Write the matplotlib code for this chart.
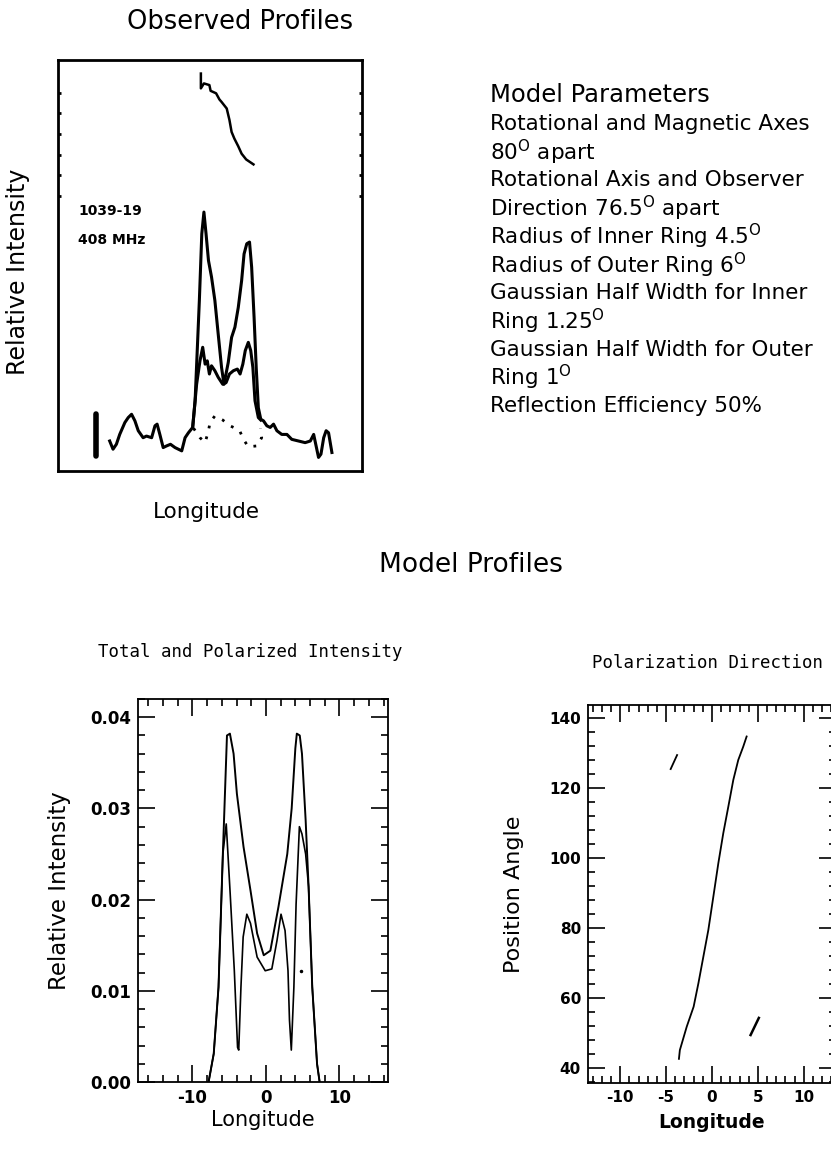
import numpy as np
import matplotlib
matplotlib.use("Agg")
import matplotlib.pyplot as plt
from matplotlib.ticker import MultipleLocator, FormatStrFormatter

plt.rcParams["axes.unicode_minus"] = False

# ---------------------------------------------------------------
# Observed profiles (arbitrary longitude / intensity units, 0-100)
obs_lon = [17.0, 18.1, 19.2, 20.3, 22.0, 23.1, 24.2, 25.3, 26.4, 28.0, 29.1, 30.8,
           31.9, 32.6, 33.5, 34.6, 35.7, 37.0, 38.5, 40.7, 41.8, 42.9, 44.3, 45.1,
           45.8, 46.5, 47.3, 48.0, 48.7, 49.5, 50.5, 51.6, 52.7, 53.8, 54.6, 56.0,
           57.1, 58.2, 59.3, 60.4, 61.2, 62.1, 63.0, 63.7, 64.5, 65.2, 65.9, 66.7,
           67.6, 68.7, 69.8, 70.9, 72.0, 73.6, 75.3, 76.9, 79.1, 81.3, 83.0, 84.1,
           84.9, 85.7, 86.5, 87.4, 88.2, 89.0, 90.1]
obs_total = [7.3, 5.3, 6.5, 8.9, 11.8, 13.0, 13.8, 12.2, 9.8, 8.1, 8.5, 8.1,
             11.0, 11.4, 8.9, 5.7, 6.1, 6.5, 5.7, 4.9, 8.1, 9.3, 10.6, 17.1,
             29.3, 41.5, 57.7, 63.0, 57.7, 51.2, 47.2, 41.5, 33.3, 25.2, 21.1, 26.4,
             32.5, 35.0, 39.8, 46.3, 52.8, 55.3, 55.7, 49.6, 37.4, 25.2, 15.4, 12.6,
             12.2, 11.0, 10.6, 11.4, 9.8, 8.9, 8.9, 7.7, 7.3, 6.9, 7.3, 8.9,
             6.1, 3.3, 4.1, 8.1, 9.8, 9.3, 4.5]

lin_lon = [44.3, 45.6, 46.7, 47.6, 48.4, 49.1, 49.8, 50.5, 51.6, 52.7, 54.2, 55.3,
           56.4, 57.7, 59.0, 59.9, 60.8, 61.6, 62.6, 63.4, 64.1, 64.8, 65.9, 66.7]
obs_linear = [10.6, 21.1, 26.8, 30.1, 26.0, 26.8, 23.6, 25.6, 24.4, 22.8, 21.1, 21.5,
              23.6, 24.4, 24.8, 23.6, 26.0, 29.3, 31.3, 29.3, 25.2, 17.1, 13.0, 12.4]

circ_lon = [44.6, 46.7, 48.4, 49.5, 50.0, 51.6, 54.2, 56.6, 59.7, 61.0, 62.6, 65.4, 67.0, 66.6]
obs_circular = [10.4, 8.1, 6.9, 9.8, 11.8, 13.4, 12.4, 11.0, 9.9, 7.7, 5.9, 6.1, 8.1, 10.4]

pa_obs_lon = [47.0, 47.0, 48.0, 49.8, 50.2, 52.0, 53.1, 53.8, 55.5, 56.4, 57.1, 58.0,
              59.3, 60.4, 61.9, 64.3]
pa_obs = [96.7, 93.1, 94.3, 93.9, 92.5, 91.9, 90.4, 89.8, 88.2, 85.4, 82.5, 80.9,
          79.0, 77.2, 75.8, 74.6]

scale_bar_lon = [12.6, 12.6]
scale_bar = [3.6, 13.8]

# ---------------------------------------------------------------
# Model profiles
mod_lon = [-7.8, -7.1, -6.45, -5.86, -5.3, -4.9, -4.4, -3.95, -3.05, -2.1, -1.2, -0.3,
           0.6, 1.7, 2.9, 3.5, 4.0, 4.2, 4.6, 4.9, 5.4, 5.8, 6.3, 6.95, 7.3]
mod_total = [0.0, 0.0031, 0.0104, 0.025, 0.038, 0.0382, 0.036, 0.0316, 0.0258, 0.021,
             0.0163, 0.0139, 0.0144, 0.0192, 0.025, 0.030, 0.0366, 0.0382, 0.038, 0.036,
             0.0287, 0.0214, 0.0104, 0.002, 0.0]

pol_lon = [-7.8, -7.1, -6.45, -5.86, -5.4, -4.86, -4.3, -3.86, -3.7, -3.4, -3.1, -2.6,
           -2.1, -1.2, -0.1, 0.8, 1.5, 2.05, 2.6, 3.0, 3.2, 3.45, 3.8, 4.1, 4.55, 4.9,
           5.4, 5.8, 6.3, 6.95, 7.3]
mod_pol = [0.0, 0.0031, 0.0104, 0.025, 0.0283, 0.0206, 0.0122, 0.0038, 0.0035, 0.0104,
           0.0159, 0.0184, 0.0174, 0.0137, 0.0122, 0.0124, 0.0155, 0.0184, 0.0166, 0.0122,
           0.0068, 0.0035, 0.0104, 0.0195, 0.028, 0.0272, 0.025, 0.0214, 0.0104, 0.002, 0.0]

pa_lon = [-3.6, -3.5, -2.75, -2.0, -1.48, -0.94, -0.4, 0.15, 0.69, 1.23, 1.78, 2.32,
          2.86, 3.4, 3.77]
pa_angle = [42.6, 45.1, 51.8, 57.5, 64.2, 71.8, 79.4, 89.0, 98.5, 107.1, 114.7, 122.3,
            128.0, 131.8, 134.7]
pa_seg1_lon = [-4.5, -3.8]
pa_seg1 = [125.4, 129.4]
pa_seg2_lon = [4.2, 5.1]
pa_seg2 = [49.4, 54.3]

parametros = ["Rotational and Magnetic Axes",
              "80$^{\\mathrm{O}}$ apart",
              "Rotational Axis and Observer",
              "Direction 76.5$^{\\mathrm{O}}$ apart",
              "Radius of Inner Ring 4.5$^{\\mathrm{O}}$",
              "Radius of Outer Ring 6$^{\\mathrm{O}}$",
              "Gaussian Half Width for Inner",
              "Ring 1.25$^{\\mathrm{O}}$",
              "Gaussian Half Width for Outer",
              "Ring 1$^{\\mathrm{O}}$",
              "Reflection Efficiency 50%"]

W, H = 831, 1154
fig = plt.figure(figsize=(W / 100, H / 100), dpi=100)


def caja(x0, y0, x1, y1):
    """Axes rectangle from pixel corners (top-left origin)."""
    return fig.add_axes([x0 / W, 1 - y1 / H, (x1 - x0) / W, (y1 - y0) / H])


# ---------------- Observed profiles -------------------------------
ax = caja(58, 60, 362, 471)
ax.plot(obs_lon, obs_total, color="k", lw=2.2)
ax.plot(lin_lon, obs_linear, color="k", lw=2.2)
ax.plot(circ_lon, obs_circular, color="k", lw=2, ls=(0, (1, 3)))
ax.plot(pa_obs_lon, pa_obs, color="k", lw=1.8)
ax.plot(scale_bar_lon, scale_bar, color="k", lw=4, solid_capstyle="round")
ax.set_xlim(0, 100)
ax.set_ylim(0, 100)
ax.set_xticks([])
ax.yaxis.set_ticks_position("both")
ax.set_yticks(np.arange(67, 97, 5))
ax.tick_params(axis="y", direction="in", length=2, width=2, labelleft=False)
for s in ax.spines.values():
    s.set_linewidth(2)
ax.text(6.6, 63.2, "1039-19", fontsize=10, fontweight="bold", va="center")
ax.text(6.6, 56.3, "408 MHz", fontsize=10, fontweight="bold", va="center")

fig.text(240 / W, 1 - 22 / H, "Observed Profiles", fontsize=18.5, ha="center", va="center")
fig.text(206 / W, 1 - 512 / H, "Longitude", fontsize=15.5, ha="center", va="center")
fig.text(18 / W, 1 - 272 / H, "Relative Intensity", fontsize=17, ha="center",
         va="center", rotation=90)

# ---------------- Model parameters ----------------------------------
fig.text(490 / W, 1 - 95 / H, "Model Parameters", fontsize=17.5, va="center")
for i, linea in enumerate(parametros):
    fig.text(490 / W, 1 - (124 + 28.2 * i) / H, linea, fontsize=15.5, va="center")

fig.text(471 / W, 1 - 565 / H, "Model Profiles", fontsize=19, ha="center", va="center")

# ---------------- Total and polarized intensity ----------------------
ax1 = caja(138, 699, 388, 1082)
ax1.plot(mod_lon, mod_total, color="k", lw=1.4)
ax1.plot(pol_lon, mod_pol, color="k", lw=1.2)
ax1.plot([4.8], [0.0122], "k.", ms=3)
ax1.set_xlim(-17.4, 16.6)
ax1.set_ylim(0, 0.042)
ax1.xaxis.set_major_locator(MultipleLocator(10))
ax1.xaxis.set_minor_locator(MultipleLocator(2))
ax1.yaxis.set_major_locator(MultipleLocator(0.01))
ax1.yaxis.set_minor_locator(MultipleLocator(0.002))
ax1.yaxis.set_major_formatter(FormatStrFormatter("%.2f"))
ax1.tick_params(which="both", direction="in", top=True, right=True, width=1.2)
ax1.tick_params(which="major", length=12, labelsize=12, pad=5)
ax1.tick_params(which="minor", length=5)
for lab in ax1.get_xticklabels() + ax1.get_yticklabels():
    lab.set_fontweight("bold")
for s in ax1.spines.values():
    s.set_linewidth(1.3)
ax1.set_xlabel("Longitude", fontsize=15, labelpad=2)
ax1.set_ylabel("Relative Intensity", fontsize=16.5, labelpad=14)
fig.text(250 / W, 1 - 652 / H, "Total and Polarized Intensity", fontsize=12.5,
         family="DejaVu Sans Mono", ha="center", va="center")

# ---------------- Polarization direction ------------------------------
ax2 = caja(588, 705, 836, 1083)
ax2.plot(pa_lon, pa_angle, color="k", lw=1.3)
ax2.plot(pa_seg1_lon, pa_seg1, color="k", lw=1.3)
ax2.plot(pa_seg2_lon, pa_seg2, color="k", lw=1.8)
ax2.set_xlim(-13.5, 13.5)
ax2.set_ylim(35.7, 143.7)
ax2.xaxis.set_major_locator(MultipleLocator(5))
ax2.xaxis.set_minor_locator(MultipleLocator(1))
ax2.yaxis.set_major_locator(MultipleLocator(20))
ax2.yaxis.set_minor_locator(MultipleLocator(4))
ax2.tick_params(which="both", direction="in", top=True, right=True, width=1.2)
ax2.tick_params(which="major", length=12, labelsize=11, pad=5)
ax2.tick_params(which="minor", length=5)
for lab in ax2.get_xticklabels() + ax2.get_yticklabels():
    lab.set_fontweight("bold")
for s in ax2.spines.values():
    s.set_linewidth(1.3)
ax2.set_xlabel("Longitude", fontsize=13.5, fontweight="bold", labelpad=6)
ax2.set_ylabel("Position Angle", fontsize=16, labelpad=18)
fig.text(707 / W, 1 - 663 / H, "Polarization Direction", fontsize=12.5,
         family="DejaVu Sans Mono", ha="center", va="center")

fig.savefig("out.png", dpi=100)
